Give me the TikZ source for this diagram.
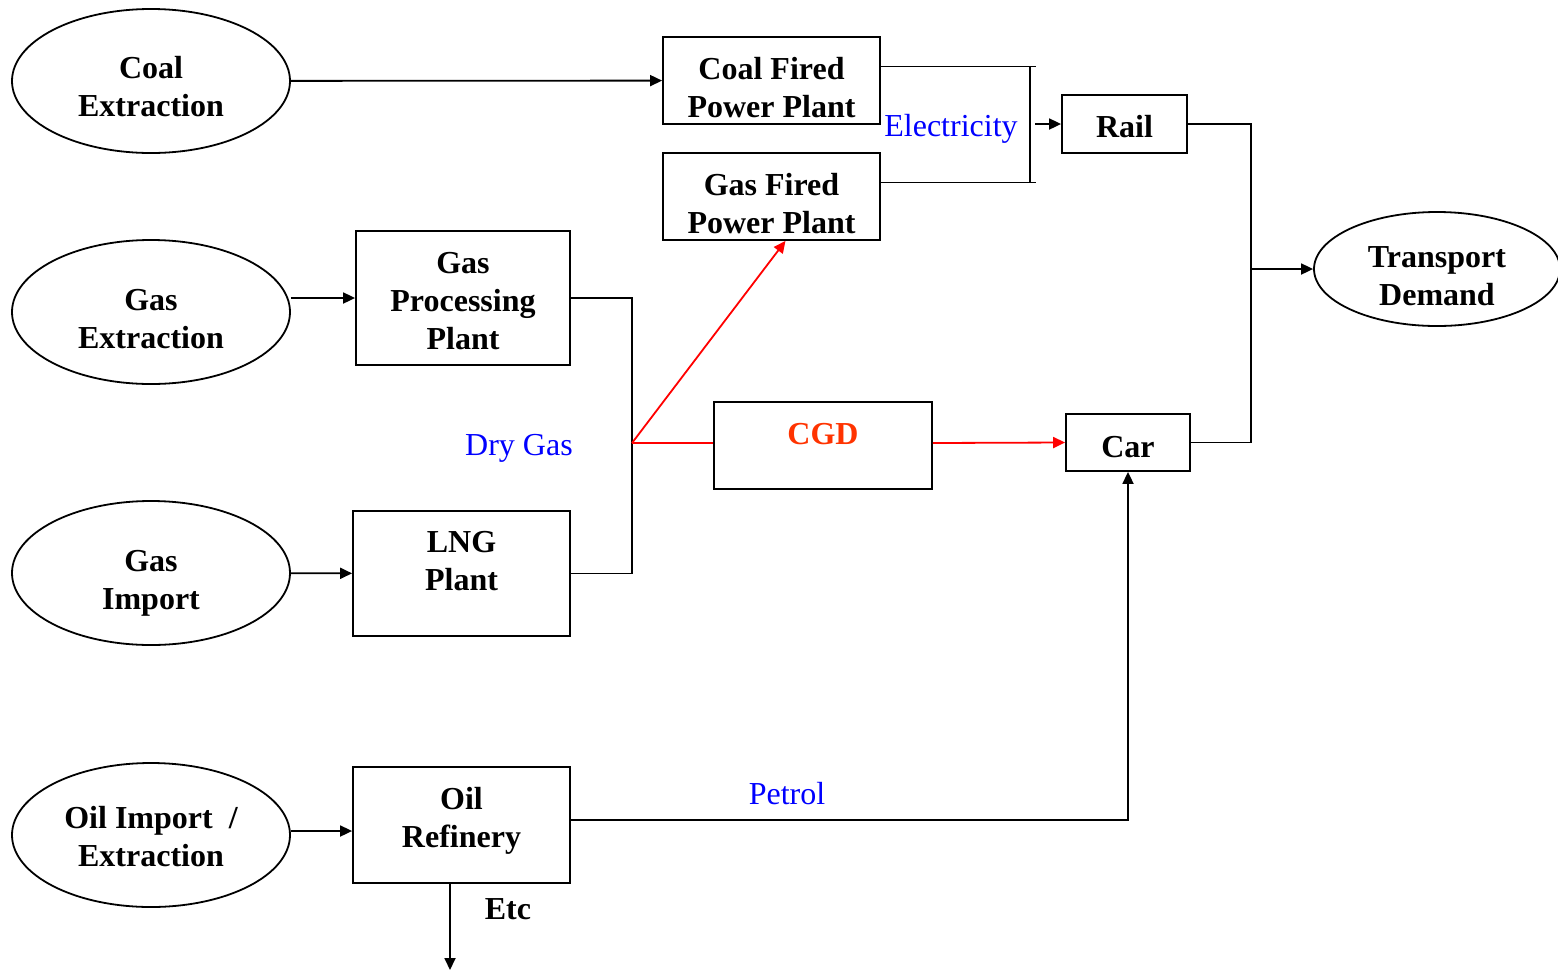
\documentclass[tikz,border=0pt]{standalone}
\usepackage{fontspec}
\setmainfont{Liberation Serif}
\usetikzlibrary{positioning,arrows.meta,shapes.geometric}
\definecolor{fBlue}{HTML}{0000FF}
\definecolor{fRed}{HTML}{FF0000}
\definecolor{fCgd}{HTML}{FF3300}
\tikzset{
  src/.style={ellipse, draw, line width=0.9pt, minimum width=139pt,
              minimum height=72pt, align=center, inner sep=0pt,
              font=\bfseries\fontsize{16}{19}\selectfont},
  unit/.style={draw, line width=0.9pt, align=center, inner sep=2pt,
               font=\bfseries\fontsize{16}{19}\selectfont},
  link/.style={line width=0.9pt},
  feed/.style={-{Triangle[length=6pt,width=5.5pt]}, line width=0.9pt},
  gas/.style={line width=0.9pt, draw=fRed},
  % carrier names that sit beside the lines
  carrier/.style={font=\fontsize{16}{19}\selectfont, text=fBlue, inner sep=1pt},
}
% taller first line, so the text sits lower in its box
\newcommand{\lowr}[1]{\rule{0pt}{#1}}

\begin{document}
\begin{tikzpicture}[x=0.5pt, y=-0.5pt]
\useasboundingbox (0,0) rectangle (1558,970);

%% ── primary sources ──────────────────────────────────────────────────────
\node[src] (coal) at (151,81)  {\lowr{17pt}Coal\\Extraction};
\node[src] (gasx) at (151,312) {\lowr{18pt}Gas\\Extraction};
\node[src] (gasi) at (151,573) {\lowr{21pt}Gas\\Import};
\node[src] (oil)  at (151,835) {\lowr{12.5pt}Oil Import\ \ /\\Extraction};

%% ── conversion plants ────────────────────────────────────────────────────
\node[unit, minimum width=108.5pt, minimum height=43.5pt] (cfpp)
  at (771.5,80.5) {\lowr{18pt}Coal Fired\\Power Plant};
\node[unit, minimum width=108.5pt, minimum height=43.5pt] (gfpp)
  at (771.5,196.5) {\lowr{18pt}Gas Fired\\Power Plant};
\node[unit, minimum width=107pt, minimum height=67pt] (gpp)
  at (463,298) {\lowr{13.5pt}Gas\\Processing\\Plant};
\node[unit, minimum width=108.5pt, minimum height=62.5pt, text depth=13pt] (lng)
  at (461.5,573.5) {LNG\\Plant};
\node[unit, minimum width=108.5pt, minimum height=58pt, text depth=7.5pt] (ref)
  at (461.5,825) {Oil\\Refinery};
\node[unit, minimum width=109pt, minimum height=43.5pt, text depth=12pt,
      text=fCgd] (cgd) at (823,445.5) {CGD};

%% ── end use ──────────────────────────────────────────────────────────────
\node[unit, minimum width=62.5pt, minimum height=29pt] (rail)
  at (1124.5,124) {\lowr{14pt}Rail};
\node[unit, minimum width=62pt, minimum height=28.5pt] (car)
  at (1128,442.5) {\lowr{15pt}Car};
\node[src, minimum width=123pt, minimum height=57pt] (td)
  at (1437,269) {\lowr{18pt}Transport\\Demand};

\coordinate (dry)    at (632,443);
\coordinate (bustop) at (1030,66);
\coordinate (busbot) at (1030,182);
\coordinate (busout) at (1035,124);
\coordinate (tdj)    at (1251,269);
\coordinate (etcend) at (450,970);

%% ── feeds ────────────────────────────────────────────────────────────────
\draw[feed] (coal) -- (cfpp);
\draw[feed] (gasx.east |- gpp) -- (gpp);
\draw[feed] (gasi) -- (lng);
\draw[feed] ([yshift=2pt]oil.east) -- ([yshift=2pt]oil.east -| ref.west);

%% ── dry gas ──────────────────────────────────────────────────────────────
\draw[link] (gpp.east) -| (dry) |- (lng.east);
\draw[gas] (dry) -- (dry -| cgd.west);
\draw[gas, feed] (dry) -- ([xshift=7pt]gfpp.south);
\draw[gas, feed] (cgd.east |- dry) -- (car.west);
\node[carrier] (drylbl) at (519,448) {Dry Gas};

%% ── electricity ──────────────────────────────────────────────────────────
\draw[link] ([yshift=7pt]cfpp.east) -- ++(155,0);
\draw[link] ([yshift=7pt]gfpp.east) -- ++(155,0);
\draw[link] (bustop) -- (busbot);
\draw[feed] (busout) -- (rail.west);
\node[carrier] (eleclbl) at (951,129) {Electricity};

%% ── to transport demand ──────────────────────────────────────────────────
\draw[link] (rail.east) -| (tdj) |- (car.east);
\draw[feed] (tdj) -- (td.west);

%% ── oil products ─────────────────────────────────────────────────────────
\draw[feed] ([yshift=2.5pt]ref.east) -| (car.south);
\node[carrier] (petlbl) at (787,794) {Petrol};
\draw[feed] (ref.south -| etcend) -- (etcend);
\node[font=\bfseries\fontsize{16}{19}\selectfont, inner sep=1pt] (etclbl)
  at (508,909) {Etc};

\end{tikzpicture}
\end{document}
